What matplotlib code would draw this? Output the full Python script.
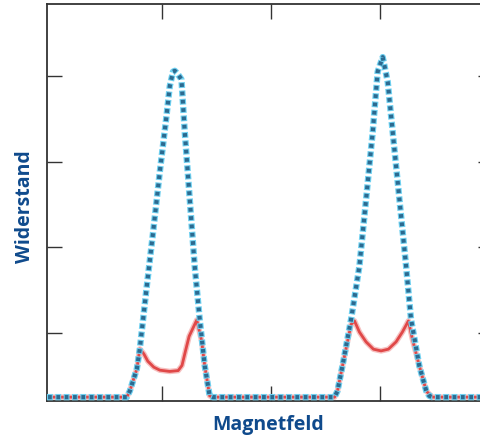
import matplotlib
matplotlib.use("Agg")
import matplotlib.pyplot as plt

# Data (arbitrary units, ticks at 1,2,3 on x and 1..4 on y)
blue_x = [-0.05, 0.68, 0.708, 0.772, 0.799, 0.860, 0.921, 0.982, 1.043, 1.073, 1.103, 1.119,
          1.142, 1.180, 1.210, 1.256, 1.301, 1.347, 1.393, 1.438, 1.466,
          2.580, 2.607, 2.653, 2.732, 2.808, 2.869, 2.930, 2.975, 3.021, 3.067, 3.112,
          3.174, 3.235, 3.280, 3.356, 3.420, 3.447, 3.475, 4.05]
blue_y = [0.25, 0.25, 0.323, 0.58, 0.813, 1.514, 2.18, 2.88, 3.53, 3.88, 4.05, 4.06,
          4.03, 3.96, 3.35, 2.56, 1.78, 1.16, 0.615, 0.265, 0.25,
          0.25, 0.32, 0.615, 1.16, 1.78, 2.56, 3.35, 4.05, 4.22, 3.93, 3.35,
          2.56, 1.78, 1.16, 0.615, 0.32, 0.265, 0.25, 0.25]

red_x = [-0.05, 0.68, 0.708, 0.772, 0.799, 0.836, 0.872, 0.927, 0.982, 1.073, 1.150, 1.185,
         1.215, 1.250, 1.320, 1.365, 1.393, 1.438, 1.466,
         2.580, 2.607, 2.653, 2.732, 2.763, 2.808, 2.869, 2.936, 3.006, 3.073, 3.143,
         3.201, 3.256, 3.292, 3.356, 3.420, 3.475, 4.05]
red_y = [0.25, 0.25, 0.323, 0.58, 0.813, 0.755, 0.67, 0.60, 0.565, 0.55, 0.56, 0.62,
         0.78, 0.96, 1.15, 0.905, 0.615, 0.265, 0.25,
         0.25, 0.32, 0.615, 1.10, 1.14, 1.01, 0.895, 0.81, 0.79, 0.81, 0.895,
         1.01, 1.14, 0.93, 0.615, 0.32, 0.25, 0.25]

x_ticks = [1, 2, 3]
y_ticks = [1, 2, 3, 4]

label_color = "#0f4a8c"

fig = plt.figure(figsize=(4.81, 4.39), dpi=100)
ax = fig.add_axes([47/481, 37/439, (493-47)/481, (402-5)/439])

# red curve with soft glow
ax.plot(red_x, red_y, color="#f6c0c0", lw=4.0, solid_joinstyle="round", zorder=2)
ax.plot(red_x, red_y, color="#e04848", lw=2.0, solid_joinstyle="round", zorder=3)

# blue dotted curve with cyan glow (same period: 6 pt)
glow_lw = 4.6
core_lw = 3.0
ax.plot(blue_x, blue_y, color="#6fd0f0", lw=glow_lw,
        linestyle=(0, (4.2/glow_lw, 1.8/glow_lw)),
        dash_capstyle="butt", zorder=4)
ax.plot(blue_x, blue_y, color="#2c6a90", lw=core_lw,
        linestyle=((6.0 - 0.75)/core_lw, (2.7/core_lw, 3.3/core_lw)),
        dash_capstyle="butt", zorder=5)

ax.set_xlim(-0.05, 4.03)
ax.set_ylim(0.205, 4.84)
ax.set_xticks(x_ticks)
ax.set_yticks(y_ticks)
ax.set_xticklabels([])
ax.set_yticklabels([])
ax.tick_params(direction="in", length=11, width=1.0, color="#333333",
               top=True, right=True, bottom=True, left=True)
for s in ax.spines.values():
    s.set_color("#333333")
    s.set_linewidth(1.3)

fig.text(268.5/481, 1 - 425/439, "Magnetfeld", ha="center", va="center",
         fontsize=14, fontweight="bold", color=label_color, family="Open Sans")
fig.text(25/481, 1 - 207/439, "Widerstand", ha="center", va="center", rotation=90,
         fontsize=14, fontweight="bold", color=label_color, family="Open Sans")

fig.savefig("out.png", dpi=100)
